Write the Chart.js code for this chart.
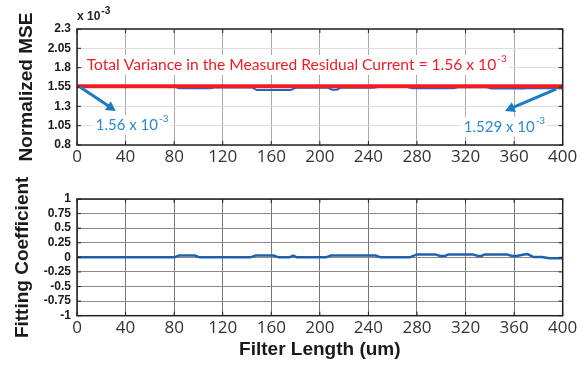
<!DOCTYPE html>
<html lang="en">
<head>
    <meta charset="UTF-8">
    <title>Normalized MSE and Fitting Coefficient</title>
    <script src="https://cdn.jsdelivr.net/npm/chart.js"></script>
    <style>
        body {
            margin: 0;
            background-color: #ffffff;
        }
        .chart-box {
            position: absolute;
            left: 0;
        }
    </style>
</head>
<body>
    <div class="chart-box" style="top:0px"><canvas id="mseChart" width="586" height="175"></canvas></div>
    <div class="chart-box" style="top:175px"><canvas id="fitChart" width="586" height="190"></canvas></div>

    <script>
        // Filter length ticks (um)
        const lengthTicks = [0, 40, 80, 120, 160, 200, 240, 280, 320, 360, 400];

        // Normalized MSE (x 10^-3)
        const mseTicks = [0.8, 1.05, 1.3, 1.55, 1.8, 2.05, 2.3];
        const mseX = [0, 80, 84, 110, 114, 144, 148, 176, 180, 207, 210, 214, 217, 244, 248, 272, 276, 310, 314, 337, 341, 368, 372, 396, 400];
        const mseY = [1.56, 1.56, 1.535, 1.535, 1.545, 1.545, 1.51, 1.51, 1.54, 1.54, 1.515, 1.515, 1.54, 1.54, 1.55, 1.55, 1.535, 1.535, 1.548, 1.548, 1.53, 1.53, 1.538, 1.535, 1.529];
        const totalVariance = 1.56;

        // Fitting coefficient
        const fitTicks = [-1, -0.75, -0.5, -0.25, 0, 0.25, 0.5, 0.75, 1];
        const fitX = [0, 80, 84, 97, 101, 143, 147, 162, 166, 175, 178, 181, 205, 209, 246, 250, 274, 280, 295, 299, 303, 306, 326, 330, 333, 336, 354, 358, 362, 367, 371, 376, 383, 389, 400];
        const fitY = [0, 0, 0.03, 0.03, 0, 0, 0.03, 0.03, 0, 0, 0.03, 0, 0, 0.03, 0.03, 0, 0, 0.05, 0.05, 0.023, 0.023, 0.05, 0.05, 0.023, 0.023, 0.05, 0.05, 0.023, 0.023, 0.045, 0.057, 0.006, 0.006, -0.017, -0.017];

        const toPoints = (xs, ys) => xs.map((x, i) => ({ x: x, y: ys[i] }));

        const tickFont = { family: "'Liberation Sans', Arial, sans-serif", size: 12, weight: "bold" };
        const lengthFont = { family: "'Open Sans', sans-serif", size: 17 };
        const titleFont = { family: "'Liberation Sans', Arial, sans-serif", size: 19, weight: "bold", lineHeight: 1 };

        // text with a superscript exponent, optional white box behind it
        function drawSupText(ctx, x, y, base, sup, font, supFont, color, box) {
            ctx.save();
            ctx.font = font;
            const w1 = ctx.measureText(base).width;
            ctx.font = supFont;
            const w2 = ctx.measureText(sup).width;
            if (box) {
                ctx.fillStyle = "#ffffff";
                ctx.fillRect(x - 3, y - 10, w1 + w2 + 6, 20);
            }
            ctx.fillStyle = color;
            ctx.textBaseline = "middle";
            ctx.textAlign = "left";
            ctx.font = font;
            ctx.fillText(base, x, y);
            ctx.font = supFont;
            ctx.fillText(sup, x + w1 + 1, y - 6);
            ctx.restore();
        }

        function drawArrow(ctx, x1, y1, x2, y2, color) {
            const a = Math.atan2(y2 - y1, x2 - x1);
            const head = 11;
            ctx.save();
            ctx.strokeStyle = color;
            ctx.fillStyle = color;
            ctx.lineWidth = 3;
            ctx.beginPath();
            ctx.moveTo(x1, y1);
            ctx.lineTo(x2 - Math.cos(a) * head * 0.8, y2 - Math.sin(a) * head * 0.8);
            ctx.stroke();
            ctx.beginPath();
            ctx.moveTo(x2, y2);
            ctx.lineTo(x2 - head * Math.cos(a - 0.5), y2 - head * Math.sin(a - 0.5));
            ctx.lineTo(x2 - head * Math.cos(a + 0.5), y2 - head * Math.sin(a + 0.5));
            ctx.closePath();
            ctx.fill();
            ctx.restore();
        }

        // MATLAB style box with inward ticks
        const boxPlugin = {
            id: "boxPlugin",
            afterDatasetsDraw(chart) {
                const { ctx, chartArea: a, scales } = chart;
                ctx.save();
                ctx.strokeStyle = "#222222";
                ctx.lineWidth = 1.5;
                ctx.strokeRect(a.left, a.top, a.right - a.left, a.bottom - a.top);
                ctx.lineWidth = 1;
                ctx.beginPath();
                scales.x.ticks.forEach(t => {
                    const px = scales.x.getPixelForValue(t.value);
                    ctx.moveTo(px, a.bottom); ctx.lineTo(px, a.bottom - 4);
                    ctx.moveTo(px, a.top); ctx.lineTo(px, a.top + 4);
                });
                scales.y.ticks.forEach(t => {
                    const py = scales.y.getPixelForValue(t.value);
                    ctx.moveTo(a.left, py); ctx.lineTo(a.left + 4, py);
                    ctx.moveTo(a.right, py); ctx.lineTo(a.right - 4, py);
                });
                ctx.stroke();
                ctx.restore();
            }
        };

        const msePlugin = {
            id: "msePlugin",
            afterDraw(chart) {
                const { ctx, scales: { x, y } } = chart;
                // exponent label above the axis
                drawSupText(ctx, 77, 17, "x 10", "-3", "bold 12px 'Liberation Sans', Arial", "bold 10px 'Liberation Sans', Arial", "#222222", false);
                drawSupText(ctx, x.getPixelForValue(8), y.getPixelForValue(1.835),
                    "Total Variance in the Measured Residual Current = 1.56 x 10", "-3",
                    "15.6px Lato, sans-serif", "10px Lato, sans-serif", "#ee1c25", true);
                drawSupText(ctx, x.getPixelForValue(15.5), y.getPixelForValue(1.06),
                    "1.56 x 10", "-3", "15px Lato, sans-serif", "10px Lato, sans-serif", "#2a8ad2", true);
                drawSupText(ctx, x.getPixelForValue(318.5), y.getPixelForValue(1.035),
                    "1.529 x 10", "-3", "15px Lato, sans-serif", "10px Lato, sans-serif", "#2a8ad2", true);
                drawArrow(ctx, x.getPixelForValue(2.5), y.getPixelForValue(1.55), x.getPixelForValue(32), y.getPixelForValue(1.24), "#1b7cc2");
                drawArrow(ctx, x.getPixelForValue(394.5), y.getPixelForValue(1.524), x.getPixelForValue(352.5), y.getPixelForValue(1.24), "#1b7cc2");
            }
        };

        function xScale(height) {
            return {
                type: "linear",
                min: 0,
                max: 400,
                afterBuildTicks: (s) => { s.ticks = lengthTicks.map(v => ({ value: v })); },
                afterFit: (s) => { s.height = height; },
                grid: { drawTicks: false, color: "#a8a8a8", lineWidth: 1 },
                border: { display: false },
                ticks: { font: lengthFont, color: "#333333", padding: 2, maxRotation: 0, autoSkip: false }
            };
        }

        function yScale(ticks, min, max, title, titlePad, gridOpts) {
            return {
                type: "linear",
                min: min,
                max: max,
                afterBuildTicks: (s) => { s.ticks = ticks.map(v => ({ value: v })); },
                afterFit: (s) => { s.width = 77; },
                grid: Object.assign({ drawTicks: false }, gridOpts),
                border: { display: false },
                ticks: { font: tickFont, color: "#1a1a1a", padding: 6, autoSkip: false, callback: (v) => String(v) },
                title: { display: true, text: title, font: titleFont, color: "#1a1a1a", padding: { top: titlePad, bottom: titlePad } }
            };
        }

        new Chart(document.getElementById("mseChart").getContext("2d"), {
            type: "line",
            data: {
                datasets: [{
                    data: toPoints([0, 400], [totalVariance, totalVariance]),
                    borderColor: "#ee1c25",
                    borderWidth: 4,
                    pointRadius: 0
                }, {
                    data: toPoints(mseX, mseY),
                    borderColor: "#2565b8",
                    borderWidth: 2,
                    pointRadius: 0
                }]
            },
            options: {
                responsive: false,
                animation: false,
                layout: { padding: { top: 29, right: 23.3, left: 0, bottom: 0 } },
                plugins: { legend: { display: false }, tooltip: { enabled: false } },
                scales: {
                    x: xScale(30),
                    y: yScale(mseTicks, 0.8, 2.3, "Normalized MSE", 17, { color: "#dddddd" })
                }
            },
            plugins: [boxPlugin, msePlugin]
        });

        const fitX_scale = xScale(49.3);
        fitX_scale.grid = { drawTicks: false, color: "#777777", lineWidth: 1, borderDash: [1, 1] };
        fitX_scale.title = { display: true, text: "Filter Length (um)", font: { family: "'Liberation Sans', Arial, sans-serif", size: 19, weight: "bold", lineHeight: 1 }, color: "#1a1a1a", padding: { top: 6, bottom: 6 } };

        new Chart(document.getElementById("fitChart").getContext("2d"), {
            type: "line",
            data: {
                datasets: [{
                    data: toPoints(fitX, fitY),
                    borderColor: "#1f5fb0",
                    borderWidth: 2.5,
                    pointRadius: 0
                }]
            },
            options: {
                responsive: false,
                animation: false,
                layout: { padding: { top: 24, right: 23.3, left: 0, bottom: 0 } },
                plugins: { legend: { display: false }, tooltip: { enabled: false } },
                scales: {
                    x: fitX_scale,
                    y: yScale(fitTicks, -1, 1, "Fitting Coefficient", 13, { color: "#8a8a8a", borderDash: [1, 1] })
                }
            },
            plugins: [boxPlugin]
        });
    </script>
</body>
</html>
